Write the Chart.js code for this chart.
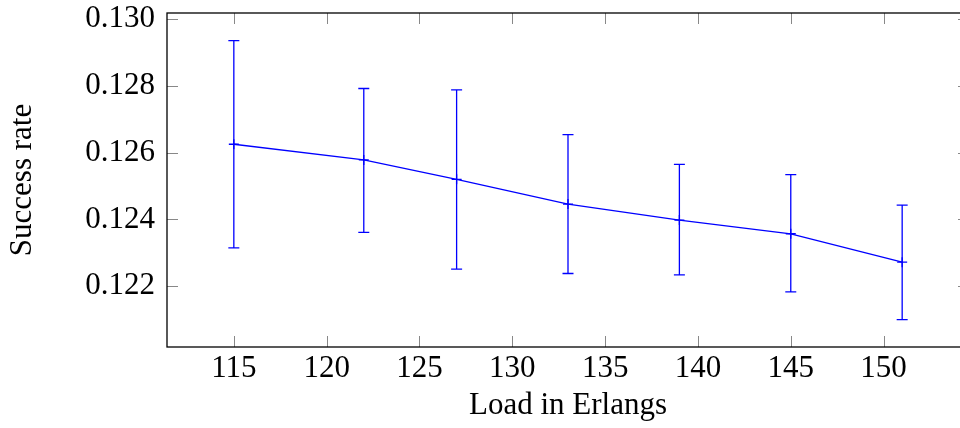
<!DOCTYPE html>
<html>
<head>
<meta charset="utf-8">
<script src="https://cdn.jsdelivr.net/npm/chart.js@4/dist/chart.umd.min.js"></script>
<style>
  html, body { margin: 0; padding: 0; background: #fff; overflow: hidden; }
  #wrap { width: 980px; height: 428px; }
</style>
</head>
<body>
<div id="wrap"><canvas id="chart"></canvas></div>
<script>
/* ===== data ===== */
const loads    = [115, 122, 127, 133, 139, 145, 151];
const rates    = [0.12625, 0.12578, 0.12520, 0.12446, 0.12398, 0.12357, 0.12272];
const errHigh  = [0.12935, 0.12792, 0.12788, 0.12654, 0.12565, 0.12534, 0.12443];
const errLow   = [0.12315, 0.12361, 0.12251, 0.12238, 0.12234, 0.12183, 0.12100];

const xTicks = [115, 120, 125, 130, 135, 140, 145, 150];
const yTicks = [0.122, 0.124, 0.126, 0.128, 0.130];

const FONT = { family: "'Liberation Serif', 'DejaVu Serif', serif", size: 31 };
const BLUE = "#0000ff";

/* ===== error bars, drawn through the scales ===== */
const errorBars = {
  id: "errorBars",
  afterDatasetsDraw(chart) {
    const { ctx, scales: { x, y } } = chart;
    ctx.save();
    ctx.strokeStyle = BLUE;
    ctx.lineWidth = 1.3;
    loads.forEach((l, i) => {
      const px = x.getPixelForValue(l);
      const top = y.getPixelForValue(errHigh[i]);
      const bot = y.getPixelForValue(errLow[i]);
      ctx.beginPath();
      ctx.moveTo(px, top); ctx.lineTo(px, bot);
      ctx.moveTo(px - 5.5, top); ctx.lineTo(px + 5.5, top);
      ctx.moveTo(px - 5.5, bot); ctx.lineTo(px + 5.5, bot);
      ctx.stroke();
    });
    ctx.restore();
  }
};

/* ===== pgfplots style frame with inward ticks ===== */
const frame = {
  id: "frame",
  afterDraw(chart) {
    const { ctx, chartArea: a, scales: { x, y } } = chart;
    const len = 11;
    ctx.save();
    ctx.strokeStyle = "#888";
    ctx.lineWidth = 1;
    ctx.beginPath();
    xTicks.forEach(v => {
      const px = Math.round(x.getPixelForValue(v)) + 0.5;
      ctx.moveTo(px, a.bottom); ctx.lineTo(px, a.bottom - len);
      ctx.moveTo(px, a.top); ctx.lineTo(px, a.top + len);
    });
    yTicks.forEach(v => {
      const py = Math.round(y.getPixelForValue(v)) + 0.5;
      ctx.moveTo(a.left, py); ctx.lineTo(a.left + len, py);
      ctx.moveTo(a.right, py); ctx.lineTo(a.right - len, py);
    });
    ctx.stroke();
    ctx.strokeStyle = "#000";
    ctx.lineWidth = 1.3;
    ctx.strokeRect(a.left, a.top, a.right - a.left, a.bottom - a.top);
    ctx.restore();
  }
};

new Chart(document.getElementById("chart"), {
  type: "line",
  data: {
    datasets: [{
      data: loads.map((l, i) => ({ x: l, y: rates[i] })),
      borderColor: BLUE,
      backgroundColor: BLUE,
      borderWidth: 1.3,
      pointStyle: "cross",
      pointRadius: 5,
      pointBorderWidth: 1.3,
      tension: 0
    }]
  },
  options: {
    responsive: true,
    maintainAspectRatio: false,
    animation: false,
    layout: { padding: { top: 13, right: 11, left: 0, bottom: 0 } },
    plugins: { legend: { display: false }, tooltip: { enabled: false } },
    scales: {
      x: {
        type: "linear",
        min: 111.4,
        max: 154.6,
        grid: { display: false, drawTicks: false },
        border: { display: false },
        afterBuildTicks: s => { s.ticks = xTicks.map(v => ({ value: v })); },
        afterFit: s => { s.height = 81; s.paddingLeft = 0; s.paddingRight = 0; },
        ticks: { color: "#000", font: FONT, padding: 3, maxRotation: 0 },
        title: { display: true, text: "Load in Erlangs", color: "#000", font: FONT, padding: { top: 12 } }
      },
      y: {
        min: 0.12018,
        max: 0.13018,
        grid: { display: false, drawTicks: false },
        border: { display: false },
        afterBuildTicks: s => { s.ticks = yTicks.map(v => ({ value: v })); },
        afterFit: s => { s.width = 167; s.paddingTop = 0; s.paddingBottom = 0; },
        ticks: { color: "#000", font: FONT, padding: 12, callback: v => v.toFixed(3) },
        title: { display: true, text: "Success rate", color: "#000", font: FONT, padding: { bottom: 20 } }
      }
    }
  },
  plugins: [errorBars, frame]
});
</script>
</body>
</html>
